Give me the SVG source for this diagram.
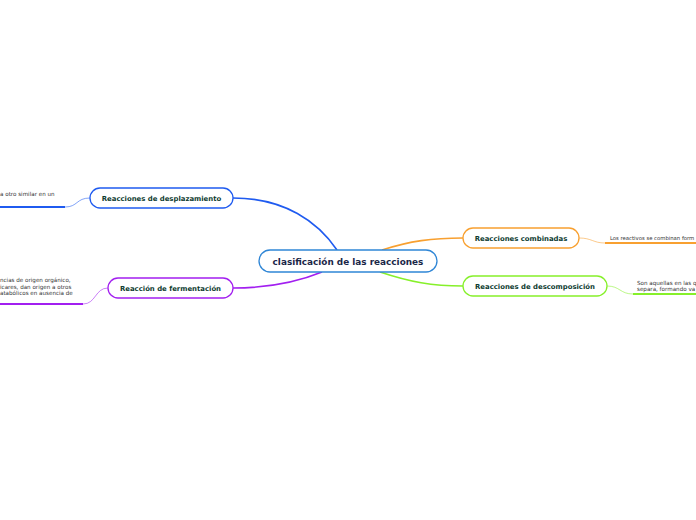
<svg xmlns="http://www.w3.org/2000/svg" width="696" height="520" viewBox="0 0 696 520">
<style>
.node rect{fill:#fff;stroke-width:1.3}
.lbl{font-family:"DejaVu Sans",Verdana,sans-serif;font-weight:bold;font-size:6.9px;fill:#0d3b30;text-anchor:middle}
.main{font-family:"DejaVu Sans",Verdana,sans-serif;font-weight:bold;font-size:8.9px;fill:#1b2748;text-anchor:middle}
.small{font-family:"DejaVu Sans",Verdana,sans-serif;font-size:5.6px;fill:#333}
.br{fill:none;stroke-width:1.6}
.thin{fill:none;stroke-width:0.8;opacity:0.7}
.ul{fill:none;stroke-width:1.8}
</style>
<rect width="696" height="520" fill="#fff"/>
<g id="connectors">
<path class="br" stroke="#1f5bf0" d="M233,198 C285,198 318,222 337,250"/>
<path class="br" stroke="#a21ff0" d="M233,288 C272,288 300,281 322,272"/>
<path class="br" stroke="#f8a030" d="M382,250 C410,241 432,238 463,238"/>
<path class="br" stroke="#86f02a" d="M380,272 C410,282 432,286 463,286"/>
<path class="thin" stroke="#1f5bf0" d="M90,198 C76,198 78,207 65,207"/>
<path class="ul" stroke="#1f5bf0" d="M0,207 H65"/>
<path class="thin" stroke="#a21ff0" d="M108,288 C95,288 96,304 83,304"/>
<path class="ul" stroke="#a21ff0" d="M0,304 H83"/>
<path class="thin" stroke="#f8a030" d="M579,238 C592,238 593,243 605,243"/>
<path class="ul" stroke="#f8a030" d="M605,243 H696"/>
<path class="thin" stroke="#86f02a" d="M607,286 C620,286 620,294 633,294"/>
<path class="ul" stroke="#86f02a" d="M633,294 H696"/>
</g>
<g id="center" class="node">
<rect x="259" y="250" width="178" height="22" rx="11" stroke="#2f86d6"/>
<text class="main" x="348" y="264.5">clasificación de las reacciones</text>
</g>
<g id="desplazamiento" class="node">
<rect x="90" y="188" width="143" height="20" rx="10" stroke="#1f5bf0"/>
<text class="lbl" x="161.5" y="200.5">Reacciones de desplazamiento</text>
</g>
<g id="fermentacion" class="node">
<rect x="108" y="278" width="125" height="20" rx="10" stroke="#a21ff0"/>
<text class="lbl" x="170.5" y="290.5">Reacción de fermentación</text>
</g>
<g id="combinadas" class="node">
<rect x="463" y="228" width="116" height="20" rx="10" stroke="#f8a030"/>
<text class="lbl" x="521" y="240.5">Reacciones combinadas</text>
</g>
<g id="descomposicion" class="node">
<rect x="463" y="276" width="144" height="20" rx="10" stroke="#86f02a"/>
<text class="lbl" x="535" y="288.5">Reacciones de descomposición</text>
</g>
<g id="desplazamiento-note">
<text class="small" x="0" y="196">a otro similar en un</text>
</g>
<g id="fermentacion-note">
<text class="small" x="0" y="282">ncias de origen orgánico,</text>
<text class="small" x="0" y="288.5">icares, dan origen a otros</text>
<text class="small" x="0" y="295">atabólicos en ausencia de</text>
</g>
<g id="combinadas-note">
<text class="small" x="610" y="239.5" style="font-size:5.3px">Los reactivos se combinan form</text>
</g>
<g id="descomposicion-note">
<text class="small" x="637" y="285">Son aquellas en las q</text>
<text class="small" x="637" y="291">separa, formando va</text>
</g>
</svg>
